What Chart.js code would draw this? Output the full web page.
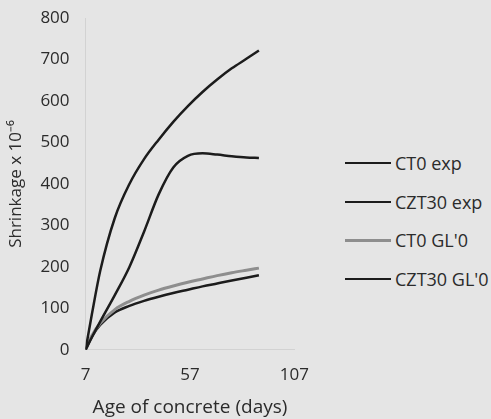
<!DOCTYPE html>
<html lang="en">
<head>
    <meta charset="UTF-8">
    <title>Shrinkage vs age of concrete</title>
    <script src="https://cdn.jsdelivr.net/npm/chart.js"></script>
    <style>
        html, body { margin: 0; padding: 0; background: #e5e5e5; }
        body { font-family: 'Open Sans', sans-serif; color: #2b2b2b; }
        .wrap { position: relative; width: 491px; height: 419px; overflow: hidden; }
        .chart-container { position: absolute; left: 0; top: 0; width: 316px; height: 419px; }
        .legend { position: absolute; left: 345px; top: 144px; }
        .legend-item { display: flex; align-items: center; height: 38.5px; font-size: 18px; white-space: nowrap; }
        .legend-line { width: 46px; margin-right: 4px; }
    </style>
</head>
<body>
    <div class="wrap">
        <div class="chart-container">
            <canvas id="shrinkChart"></canvas>
        </div>
        <div class="legend" id="legend"></div>
    </div>
    <script>
        // Age of concrete (days)
        const days = [7, 10, 14, 21, 28, 35, 42, 49, 56, 63, 70, 77, 84, 90];

        // Shrinkage x 10^-6
        const ct0Exp   = [0, 85, 190, 318, 400, 460, 507, 550, 588, 622, 652, 679, 702, 722];
        const czt30Exp = [0, 30, 68, 132, 200, 285, 375, 440, 468, 474, 471, 467, 464, 463];
        const ct0Gl    = [0, 34, 64, 97, 117, 132, 144, 154, 163, 171, 179, 186, 192, 197];
        const czt30Gl  = [0, 32, 60, 90, 106, 118, 128, 137, 145, 153, 160, 167, 174, 180];

        const seriesNames = ['CT0 exp', 'CZT30 exp', "CT0 GL'0", "CZT30 GL'0"];
        const seriesColors = ['#1c1c1c', '#1c1c1c', '#8e8e8e', '#1c1c1c'];
        const seriesWidths = [2.5, 2.5, 3, 2.5];

        const xTicks = [7, 57, 107];

        const toPoints = vals => vals.map((v, i) => ({ x: days[i], y: v }));

        const textColor = '#2b2b2b';
        const fontFamily = "'Open Sans', sans-serif";

        const datasets = [ct0Exp, czt30Exp, ct0Gl, czt30Gl].map((vals, i) => ({
            label: seriesNames[i],
            data: toPoints(vals),
            borderColor: seriesColors[i],
            borderWidth: seriesWidths[i]
        }));

        new Chart(document.getElementById('shrinkChart'), {
            type: 'line',
            data: { datasets },
            options: {
                responsive: true,
                maintainAspectRatio: false,
                animation: false,
                elements: {
                    point: { radius: 0 },
                    line: { cubicInterpolationMode: 'monotone', fill: false }
                },
                layout: { padding: { top: 14, right: 0, bottom: 0, left: 6 } },
                plugins: {
                    tooltip: { enabled: false },
                    legend: { display: false }
                },
                scales: {
                    x: {
                        type: 'linear',
                        min: 7,
                        max: 107,
                        afterBuildTicks: axis => { axis.ticks = xTicks.map(v => ({ value: v })); },
                        grid: { display: false },
                        border: { display: true, color: '#d2d2d2', dash: [2, 6] },
                        ticks: { color: textColor, font: { family: fontFamily, size: 17 }, padding: 7 },
                        title: {
                            display: true,
                            text: 'Age of concrete (days)',
                            color: textColor,
                            font: { family: fontFamily, size: 19 },
                            padding: { top: 4, bottom: 0 }
                        }
                    },
                    y: {
                        min: 0,
                        max: 800,
                        grid: { display: false },
                        border: { display: true, color: '#d2d2d2', dash: [2, 6] },
                        ticks: { stepSize: 100, color: textColor, font: { family: fontFamily, size: 17 }, padding: 8 },
                        title: {
                            display: true,
                            text: 'Shrinkage x 10\u207B\u2076',
                            color: textColor,
                            font: { family: fontFamily, size: 17 },
                            padding: { top: 0, bottom: 6 }
                        }
                    }
                }
            }
        });

        // Legend on the right, built from the same series lists
        const legend = document.getElementById('legend');
        seriesNames.forEach((name, i) => {
            const item = document.createElement('div');
            item.className = 'legend-item';
            item.innerHTML = `<span class="legend-line" style="border-top:${seriesWidths[i]}px solid ${seriesColors[i]}"></span><span>${name}</span>`;
            legend.appendChild(item);
        });
    </script>
</body>
</html>
